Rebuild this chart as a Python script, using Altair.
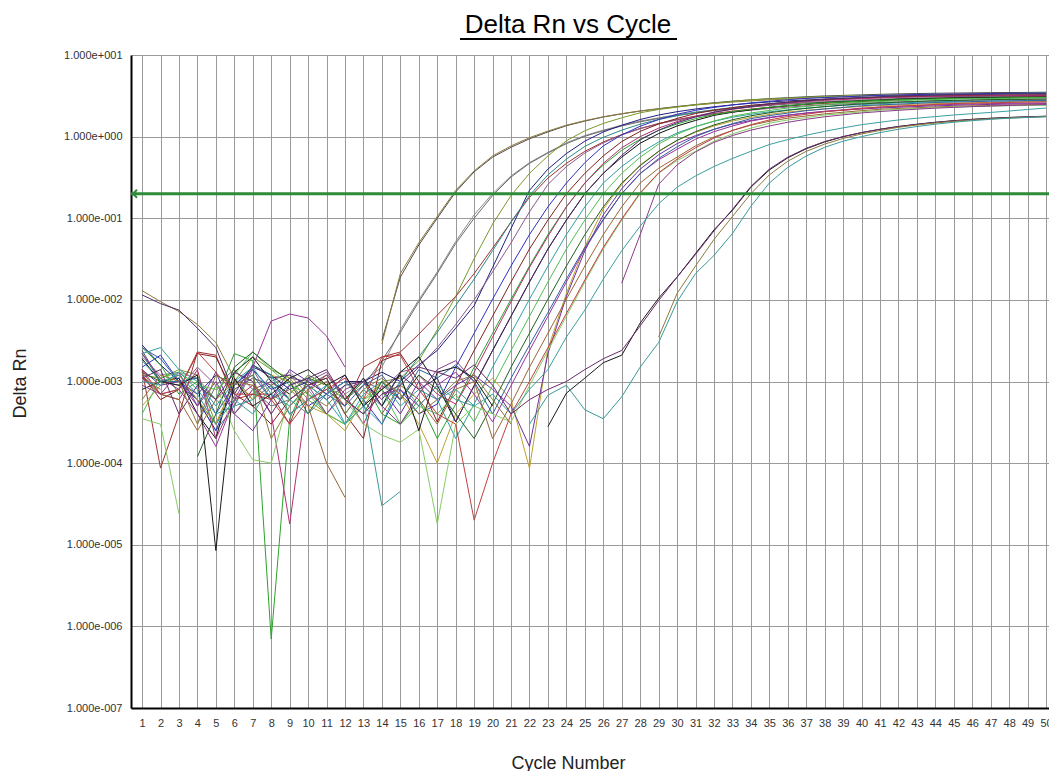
import altair as alt
import pandas as pd

# ---------------------------------------------------------------
# Amplification plot: Delta Rn per well for cycles 1..50 (log scale)
# None marks a cycle whose Delta Rn is not positive (no point drawn)
# ---------------------------------------------------------------
cycles = list(range(1, 51))
decades = [1e-7, 1e-6, 1e-5, 1e-4, 1e-3, 1e-2, 1e-1, 1e0, 1e1]
threshold_value = [0.2]
chart_title = ["Delta Rn vs Cycle"]

A1 = [2.4e-3, 1.0e-3, 9e-4, 6e-4, 3e-4, 8e-4, 1.1e-3, 9e-4, 4e-4, 6e-4,
      8e-4, 5e-4, None, 3.2e-3, 0.019, 0.047, 0.10, 0.21, 0.37, 0.56,
      0.74, 0.94, 1.14, 1.36, 1.55, 1.74, 1.90, 2.06, 2.20, 2.34,
      2.47, 2.60, 2.72, 2.82, 2.92, 3.00, 3.08, 3.15, 3.20, 3.25,
      3.30, 3.34, 3.37, 3.40, 3.42, 3.44, 3.46, 3.47, 3.48, 3.50]
A2 = [1.3e-2, 9.5e-3, 7.2e-3, 5.0e-3, 3.0e-3, 1.1e-3, 6e-4, 9e-4, 1.2e-3, 7e-4,
      5e-4, 9e-4, None, 2.9e-3, 0.021, 0.050, 0.105, 0.22, 0.38, 0.58,
      0.77, 0.97, 1.17, 1.38, 1.57, 1.75, 1.91, 2.06, 2.19, 2.32,
      2.44, 2.55, 2.65, 2.74, 2.82, 2.89, 2.96, 3.02, 3.08, 3.13,
      3.17, 3.21, 3.25, 3.28, 3.31, 3.33, 3.35, 3.37, 3.38, 3.40]
B1 = [2.0e-3, 1.2e-3, 1.3e-3, 1.1e-3, 6e-4, 4e-4, 7e-4, 1.0e-3, 1.3e-3, 8e-4,
      4e-4, 7e-4, 1.0e-3, 1.5e-3, 4.3e-3, 1.0e-2, 0.022, 0.052, 0.11, 0.20,
      0.33, 0.48, 0.64, 0.84, 1.03, 1.20, 1.38, 1.55, 1.70, 1.86,
      2.00, 2.12, 2.24, 2.35, 2.45, 2.54, 2.62, 2.69, 2.76, 2.82,
      2.88, 2.93, 2.98, 3.02, 3.06, 3.09, 3.12, 3.15, 3.18, 3.20]
B2 = [1.1e-3, 8e-4, None, 3e-4, 9e-4, 1.4e-3, 8e-4, 5e-4, 6e-4, 9e-4,
      1.2e-3, 6e-4, 9e-4, 1.8e-3, 4.0e-3, 9.5e-3, 0.021, 0.049, 0.10, 0.19,
      0.32, 0.47, 0.63, 0.82, 1.01, 1.18, 1.35, 1.52, 1.67, 1.82,
      1.96, 2.08, 2.20, 2.31, 2.41, 2.50, 2.58, 2.65, 2.72, 2.78,
      2.84, 2.89, 2.94, 2.98, 3.02, 3.05, 3.08, 3.11, 3.14, 3.16]
C1 = [1.2e-3, 1.1e-3, 1.4e-3, 1.2e-3, 3e-4, 1.0e-3, 2.0e-3, 1.4e-3, 1.1e-3, 6e-4,
      4e-4, 3e-4, 5e-4, 1.0e-3, 1.1e-3, 1.8e-3, 4.3e-3, 0.011, 0.032, 0.085,
      0.19, 0.355, 0.58, 0.89, 1.18, 1.45, 1.70, 1.96, 2.15, 2.30,
      2.46, 2.57, 2.70, 2.83, 2.89, 2.96, 3.03, 3.10, 3.14, 3.17,
      3.21, 3.23, 3.25, 3.27, 3.29, 3.30, 3.32, 3.33, 3.34, 3.35]
C2 = [2.8e-3, 1.6e-3, 1.0e-3, 7e-4, 1.2e-3, 9e-4, 1.5e-3, 1.2e-3, 8e-4, 1.0e-3,
      7e-4, 1.0e-3, 1.0e-3, 1.3e-3, 1.0e-3, 1.6e-3, 2.4e-3, 4.5e-3, 8.5e-3, 0.025,
      0.075, 0.22, 0.40, 0.62, 0.88, 1.14, 1.38, 1.62, 1.84, 2.02,
      2.18, 2.32, 2.45, 2.56, 2.66, 2.74, 2.81, 2.88, 2.94, 2.99,
      3.03, 3.06, 3.09, 3.12, 3.14, 3.16, 3.18, 3.20, 3.21, 3.22]
C3 = [1.4e-3, 8.7e-5, 3.9e-4, 2.3e-3, 2.1e-3, 6e-4, 7e-4, 7e-4, 3e-4, 1.1e-3,
      9e-4, 5e-4, 1.5e-3, 2.0e-3, 2.3e-3, 3.8e-3, 6.5e-3, 0.011, 0.021, 0.043,
      0.090, 0.18, 0.31, 0.47, 0.66, 0.86, 1.06, 1.26, 1.45, 1.62,
      1.78, 1.92, 2.05, 2.17, 2.28, 2.38, 2.47, 2.55, 2.62, 2.69,
      2.75, 2.80, 2.85, 2.89, 2.93, 2.97, 3.00, 3.03, 3.06, 3.08]
C4 = [2.2e-3, 1.0e-3, 1.0e-3, 6e-4, 2.5e-4, 5e-4, 1.6e-3, 1.2e-3, 6e-4, 9e-4,
      1.1e-3, 4e-4, 8e-4, 5e-4, 1.0e-3, 2.0e-3, 4.0e-3, 8.5e-3, 0.018, 0.040,
      0.090, 0.19, 0.34, 0.53, 0.76, 0.98, 1.20, 1.42, 1.62, 1.80,
      1.97, 2.13, 2.27, 2.40, 2.52, 2.63, 2.73, 2.82, 2.90, 2.98,
      3.05, 3.11, 3.17, 3.22, 3.27, 3.31, 3.35, 3.38, 3.41, 3.44]
C5 = [1.3e-3, 7e-4, 8e-4, 1.5e-3, 9e-4, 5e-4, 1.4e-3, 6e-4, 1.1e-3, 1.0e-3,
      1.3e-3, 6e-4, 1.0e-3, 8e-4, 1.3e-3, 1.5e-3, 2.6e-3, 5.0e-3, 0.010, 0.022,
      0.050, 0.12, 0.26, 0.43, 0.63, 0.84, 1.05, 1.25, 1.43, 1.60,
      1.75, 1.88, 2.00, 2.11, 2.21, 2.30, 2.38, 2.45, 2.51, 2.57,
      2.62, 2.66, 2.70, 2.74, 2.77, 2.80, 2.82, 2.84, 2.86, 2.88]
D1 = [1.5e-3, 2.1e-3, 1.0e-3, 6e-4, 2.5e-4, 9e-4, 1.4e-3, 8e-4, 1.0e-3, 5e-4,
      7e-4, 1.0e-3, 6e-4, 3e-4, 8e-4, 4e-4, 5.3e-4, 1.5e-3, 3.9e-3, 0.0102,
      0.026, 0.063, 0.138, 0.27, 0.48, 0.77, 1.05, 1.34, 1.62, 1.88,
      2.10, 2.28, 2.44, 2.59, 2.71, 2.83, 2.94, 3.01, 3.07, 3.14,
      3.20, 3.24, 3.28, 3.31, 3.33, 3.34, 3.37, 3.39, 3.40, 3.41]
D2 = [1.2e-3, 6e-4, 8e-4, 2.2e-3, 2.0e-3, 7e-4, 5e-4, 3e-4, 6e-4, 9e-4,
      1.1e-3, 4e-4, 2e-4, 1.8e-3, 2.2e-3, 1.0e-3, 3.2e-4, 8.9e-4, 2.4e-3, 6.3e-3,
      0.0166, 0.042, 0.095, 0.20, 0.355, 0.58, 0.87, 1.16, 1.43, 1.67,
      1.92, 2.11, 2.26, 2.42, 2.53, 2.65, 2.78, 2.84, 2.91, 2.97,
      3.05, 3.08, 3.11, 3.15, 3.18, 3.19, 3.21, 3.23, 3.24, 3.26]
D3 = [8e-4, 1.0e-3, 1.1e-3, 4e-4, 2e-4, 1.3e-3, 2.0e-3, 1.0e-3, 7e-4, 1.2e-3,
      9e-4, 6e-4, 1.1e-3, 5e-4, 1.3e-3, 2.0e-3, 9e-4, 3.2e-4, 8.9e-4, 2.4e-3,
      6.3e-3, 0.0166, 0.042, 0.095, 0.20, 0.355, 0.56, 0.83, 1.09, 1.35,
      1.58, 1.82, 1.99, 2.13, 2.28, 2.39, 2.50, 2.62, 2.68, 2.74,
      2.80, 2.88, 2.91, 2.94, 2.98, 3.00, 3.01, 3.03, 3.05, 3.06]
D4 = [2.6e-3, 1.6e-3, 7e-4, 1.0e-3, 6e-4, 2.2e-3, 1.8e-3, 7e-7, 3.5e-4, 1.1e-3,
      9e-4, 6e-4, 1.0e-3, 4e-4, 3e-4, 6e-4, 2.0e-4, 5.3e-4, 1.5e-3, 3.9e-3,
      0.0102, 0.026, 0.063, 0.138, 0.27, 0.45, 0.68, 0.93, 1.19, 1.43,
      1.66, 1.86, 2.02, 2.16, 2.29, 2.40, 2.50, 2.60, 2.66, 2.72,
      2.78, 2.83, 2.87, 2.90, 2.93, 2.95, 2.96, 2.98, 3.00, 3.01]
D5 = [1.1e-3, 7e-4, 6e-4, 1.4e-3, 2.0e-4, 6e-4, 9e-4, 4e-4, 1.8e-5, 8e-4,
      1.2e-3, 7e-4, 3e-4, 9e-4, 6e-4, 1.2e-3, 7e-4, 5.3e-4, 1.3e-3, 3.5e-3,
      9.5e-3, 0.025, 0.060, 0.138, 0.27, 0.47, 0.73, 1.00, 1.27, 1.53,
      1.78, 1.99, 2.16, 2.31, 2.45, 2.57, 2.68, 2.78, 2.85, 2.91,
      2.97, 3.03, 3.07, 3.10, 3.14, 3.16, 3.17, 3.19, 3.21, 3.22]
D6 = [5e-4, 9e-4, 1.2e-3, 6e-4, 3e-4, 1.0e-3, 6e-4, 1.2e-3, 1.0e-3, 5e-4,
      4e-4, 2.5e-4, 6e-4, 1.0e-3, 7e-4, 3e-4, 1.0e-4, 4e-4, 7e-4, 1.1e-3,
      6e-4, 8.6e-5, 2.5e-3, 0.012, 0.045, 0.13, 0.26, 0.45, 0.66, 0.90,
      1.13, 1.35, 1.55, 1.72, 1.87, 2.00, 2.10, 2.19, 2.27, 2.34,
      2.40, 2.45, 2.50, 2.54, 2.57, 2.60, 2.63, 2.65, 2.67, 2.69]
D7 = [1.15e-2, 9.0e-3, 7.5e-3, 4.5e-3, 2.6e-3, 7e-4, 1.6e-3, 1.1e-3, 1.2e-3, 9e-4,
      6e-4, 9e-4, 1.0e-3, 6e-4, 1.2e-3, 8e-4, 1.1e-3, 3.2e-4, 8.9e-4, 2.4e-3,
      6.3e-3, 0.0166, 0.042, 0.095, 0.20, 0.355, 0.59, 0.91, 1.20, 1.48,
      1.74, 1.99, 2.18, 2.34, 2.51, 2.62, 2.74, 2.88, 2.95, 3.01,
      3.08, 3.16, 3.19, 3.23, 3.27, 3.29, 3.30, 3.33, 3.35, 3.36]
D8 = [2.2e-3, 2.6e-3, 1.4e-3, 1.0e-3, 5e-4, 1.0e-3, 1.5e-3, 7e-4, 5e-4, 9e-4,
      6e-4, 3e-4, 7e-4, 1.0e-3, 5e-4, 8e-4, 6e-4, 2.0e-4, 5.3e-4, 1.5e-3,
      3.9e-3, 0.0102, 0.026, 0.063, 0.138, 0.27, 0.43, 0.63, 0.86, 1.11,
      1.33, 1.54, 1.73, 1.88, 2.01, 2.13, 2.23, 2.33, 2.42, 2.47,
      2.53, 2.59, 2.63, 2.67, 2.70, 2.72, 2.74, 2.75, 2.77, 2.79]
D9 = [1.4e-3, 9e-4, 1.0e-3, 5e-4, 1.3e-3, 4e-4, 2.5e-4, 6e-4, 1.4e-3, 1.0e-3,
      7e-4, 1.2e-3, 5e-4, 8e-4, 4e-4, 1.0e-3, 6e-4, 9e-4, 1.2e-3, 8e-4,
      5e-4, 1.6e-4, 2.2e-3, 0.011, 0.040, 0.11, 0.23, 0.40, 0.60, 0.82,
      1.03, 1.23, 1.42, 1.58, 1.72, 1.84, 1.94, 2.03, 2.11, 2.18,
      2.24, 2.29, 2.34, 2.38, 2.42, 2.45, 2.48, 2.50, 2.52, 2.54]
D10 = [4e-4, 1.1e-3, 1.3e-3, 9e-4, 8e-4, 1.2e-3, 2.3e-3, 1.4e-3, 9e-4, 7e-4,
       4e-4, 3e-4, 6e-4, 8e-4, 3e-4, 5e-4, 4e-4, 7e-4, 3.2e-4, 8.9e-4,
       2.4e-3, 6.3e-3, 0.0166, 0.042, 0.095, 0.20, 0.355, 0.56, 0.81, 1.07,
       1.32, 1.55, 1.78, 1.95, 2.09, 2.24, 2.34, 2.45, 2.57, 2.63,
       2.69, 2.75, 2.82, 2.85, 2.88, 2.92, 2.94, 2.95, 2.97, 2.99]
E1 = [1.3e-3, 1.0e-3, None, 1.2e-4, 4e-4, 1.5e-3, 2.3e-3, 1.5e-3, 1.0e-3, 4e-4,
      9e-4, 6e-4, 4e-4, 1.0e-3, 6e-4, 1.2e-3, 8e-4, 4e-4, 2.0e-4, 5.3e-4,
      1.5e-3, 3.9e-3, 0.0102, 0.026, 0.063, 0.138, 0.27, 0.44, 0.66, 0.90,
      1.15, 1.39, 1.61, 1.80, 1.96, 2.10, 2.22, 2.33, 2.43, 2.52,
      2.58, 2.64, 2.70, 2.75, 2.78, 2.81, 2.84, 2.86, 2.87, 2.89]
E2 = [2.2e-3, 1.1e-3, 8e-4, 4e-4, 1.6e-4, 6e-4, 1.5e-3, 5.5e-3, 6.7e-3, 6.0e-3,
      3.6e-3, 1.5e-3, None, 7e-4, 8e-4, 5e-4, 9e-4, 1.3e-3, 7e-4, 3.2e-4,
      8.9e-4, 2.4e-3, 6.3e-3, 0.0166, 0.042, 0.095, 0.20, 0.355, 0.52, 0.70,
      0.93, 1.15, 1.35, 1.55, 1.70, 1.82, 1.95, 2.04, 2.13, 2.24,
      2.29, 2.34, 2.39, 2.45, 2.48, 2.51, 2.54, 2.56, 2.57, 2.58]
E3 = [2.6e-3, 1.9e-3, 1.0e-3, 1.1e-3, 4e-4, 9e-4, 1.2e-3, 6e-4, 9e-4, 1.1e-3,
      7e-4, 5e-4, 9e-4, 1.2e-3, 6e-4, 1.4e-3, 1.1e-3, 1.6e-3, 1.0e-3, 4e-4,
      1.1e-3, 2.8e-3, 7.0e-3, 0.018, 0.044, 0.097, 0.20, 0.35, 0.54, 0.75,
      1.00, 1.23, 1.44, 1.66, 1.81, 1.94, 2.08, 2.18, 2.28, 2.39,
      2.45, 2.50, 2.56, 2.62, 2.65, 2.68, 2.72, 2.73, 2.75, 2.76]
E4 = [1.2e-3, 7e-4, 6e-4, 2.5e-4, 6e-4, 1.0e-3, 9e-4, 6e-4, 8e-4, 5e-4,
      1.0e-4, 3.8e-5, None, 4e-4, 9e-4, 6e-4, 3e-4, 8e-4, 1.0e-3, 2.0e-4,
      5.3e-4, 1.5e-3, 3.9e-3, 0.0102, 0.026, 0.063, 0.138, 0.27, 0.41, 0.56,
      0.77, 0.99, 1.19, 1.38, 1.54, 1.68, 1.79, 1.90, 1.99, 2.08,
      2.16, 2.21, 2.26, 2.31, 2.35, 2.38, 2.41, 2.43, 2.45, 2.46]
E5 = [3.5e-4, 3.0e-4, 2.4e-5, None, 9e-4, 2.5e-4, 1.1e-4, 1.0e-4, 7e-4, 1.2e-3,
      9e-4, 6e-4, 3e-4, 2.2e-4, 1.8e-4, 2.6e-4, 1.8e-5, 3e-4, 5e-4, 4e-4,
      3.2e-4, 8.9e-4, 2.4e-3, 6.3e-3, 0.0166, 0.042, 0.095, 0.20, 0.355, 0.51,
      0.66, 0.88, 1.08, 1.27, 1.46, 1.60, 1.71, 1.84, 1.92, 2.01,
      2.11, 2.16, 2.21, 2.26, 2.31, 2.34, 2.36, 2.39, 2.41, 2.42]
E6 = [1.4e-3, 7e-4, 8e-4, 2.3e-3, 1.3e-3, 7e-4, 7e-4, 6e-4, 3e-4, 6e-4,
      8e-4, 1.1e-3, 6e-4, 2.0e-3, 2.1e-3, 8e-4, 4e-4, 3e-4, 2.0e-5, 1.0e-4,
      4e-4, 1.0e-3, 2.6e-3, 6.8e-3, 0.0175, 0.044, 0.098, 0.205, 0.36, 0.53,
      0.73, 0.96, 1.19, 1.40, 1.60, 1.76, 1.88, 2.02, 2.11, 2.20,
      2.31, 2.37, 2.42, 2.48, 2.54, 2.57, 2.59, 2.63, 2.65, 2.66]
E7 = [9e-4, 7e-4, 1.3e-3, 5e-4, 1.0e-3, 4e-4, 8e-4, 1.0e-3, 6e-4, 9e-4,
      4e-4, 8e-4, 1.0e-3, 5e-4, 3e-4, 7e-4, 1.4e-3, 1.8e-3, 1.0e-3, None,
      None, None, None, None, None, None, 0.016, 0.063, 0.26, 0.45,
      0.65, 0.85, 1.03, 1.20, 1.35, 1.50, 1.63, 1.75, 1.85, 1.95,
      2.03, 2.10, 2.17, 2.23, 2.28, 2.33, 2.37, 2.41, 2.44, 2.47]
F1 = [1.0e-3, 9e-4, 1.3e-3, 8e-4, 4e-4, 5e-4, 6e-4, 1.2e-3, 4e-4, 6e-4,
      9e-4, 3e-4, 5e-4, 3e-4, 1.0e-3, 5e-4, 9e-4, 6e-4, 5e-4, 7e-4,
      4e-4, 8e-4, 1.4e-3, 3.5e-3, 7.5e-3, 0.018, 0.040, 0.080, 0.15, 0.24,
      0.33, 0.43, 0.54, 0.66, 0.80, 0.92, 1.04, 1.16, 1.28, 1.40,
      1.50, 1.60, 1.68, 1.76, 1.84, 1.91, 1.98, 2.06, 2.15, 2.24]
G1 = [1.9e-3, 1.0e-3, 9e-4, 1.2e-3, 8.5e-6, 1.1e-3, 5e-4, 7e-4, 1.1e-3, 1.4e-3,
      9e-4, 1.2e-3, 5e-4, 8e-4, 1.2e-3, 2.5e-4, 1.3e-3, 1.5e-3, 1.1e-3, 5e-4,
      None, None, 2.8e-4, 7.2e-4, 1.1e-3, 1.7e-3, 2.1e-3, 5.2e-3, 0.0105, 0.019,
      0.037, 0.072, 0.125, 0.24, 0.39, 0.55, 0.71, 0.86, 1.00, 1.12,
      1.23, 1.33, 1.42, 1.50, 1.57, 1.63, 1.68, 1.72, 1.75, 1.78]
G2 = [1.1e-3, 1.4e-3, 4e-4, 9e-4, 6e-4, 1.3e-3, 1.0e-3, 4e-4, 9e-4, 1.1e-3,
      1.4e-3, 6e-4, 4e-4, 7e-4, 9e-4, 1.5e-3, 1.3e-3, 1.1e-3, 1.6e-3, 9e-4,
      4.0e-4, 6e-4, 8e-4, 1.0e-3, 1.4e-3, 1.9e-3, 2.4e-3, 4.8e-3, 9.8e-3, 0.019,
      0.036, 0.070, 0.128, 0.245, 0.40, 0.56, 0.72, 0.87, 1.00, 1.12,
      1.23, 1.33, 1.41, 1.49, 1.56, 1.62, 1.67, 1.71, 1.74, 1.77]
G3 = [6e-4, 1.2e-3, 1.0e-3, 3e-4, 1.2e-3, 9e-4, 1.2e-3, 2.0e-4, 5e-4, 8e-4,
      1.0e-3, 4e-4, 8e-4, 1.1e-3, 7e-4, 4e-4, 6e-4, 1.0e-3, 1.2e-3, 6e-4,
      3e-4, None, None, None, None, None, None, None, 3.5e-3, 0.012,
      0.026, 0.055, 0.105, 0.20, 0.34, 0.50, 0.66, 0.81, 0.95, 1.08,
      1.19, 1.30, 1.39, 1.47, 1.54, 1.60, 1.65, 1.69, 1.72, 1.75]
G4 = [1.8e-3, 1.0e-3, 1.2e-3, 7e-4, 3e-4, 6e-4, 4e-4, 9e-4, 6e-4, 4e-4,
      7e-4, 1.0e-3, 6e-4, 3.0e-5, 4.5e-5, None, 6e-4, 8e-4, 5e-4, None,
      None, 3e-4, 6.8e-4, 9.0e-4, 4.5e-4, 3.5e-4, 6.5e-4, 1.5e-3, 3.0e-3, 9.5e-3,
      0.021, 0.035, 0.065, 0.14, 0.27, 0.42, 0.58, 0.74, 0.88, 1.00,
      1.12, 1.23, 1.33, 1.42, 1.50, 1.57, 1.63, 1.68, 1.72, 1.76]

wells = [
    ("A1", A1, "#4d4d4d"), ("A2", A2, "#8f7a3a"),
    ("B1", B1, "#8c8c8c"), ("B2", B2, "#6b6b6b"),
    ("C1", C1, "#7a9a2a"), ("C2", C2, "#202080"), ("C3", C3, "#a03030"),
    ("C4", C4, "#2a8a8a"), ("C5", C5, "#8a5a8a"),
    ("D1", D1, "#3030c0"), ("D2", D2, "#802020"), ("D3", D3, "#101010"),
    ("D4", D4, "#2ca02c"), ("D5", D5, "#b03070"), ("D6", D6, "#c0a030"),
    ("D7", D7, "#4b2c6f"), ("D8", D8, "#30a0a0"), ("D9", D9, "#7030a0"),
    ("D10", D10, "#50c050"),
    ("E1", E1, "#206020"), ("E2", E2, "#993399"), ("E3", E3, "#3060a0"),
    ("E4", E4, "#996633"), ("E5", E5, "#88cc66"), ("E6", E6, "#c04040"),
    ("E7", E7, "#8a3a8a"),
    ("F1", F1, "#3aa0a0"),
    ("G1", G1, "#1a1a1a"), ("G2", G2, "#6a2a6a"), ("G3", G3, "#8a7a3a"),
    ("G4", G4, "#3a9a9a"),
]

# Long table; a new run id starts after every gap so the paths break there
rows = []
for name, values, _ in wells:
    assert len(values) == len(cycles), (name, len(values))
    run, gap = 0, True
    for c, v in zip(cycles, values):
        if v is None:
            gap = True
            continue
        if gap:
            run += 1
            gap = False
        rows.append({"well": name, "cycle": c, "value": v, "run": f"{name}-{run}"})
df = pd.DataFrame(rows)

thr_df = pd.DataFrame({"value": threshold_value})
title_df = pd.DataFrame({"label": chart_title})

FONT = "Liberation Sans"
GREEN = "#2e8b37"
GRID = "#9a9a9a"

y_enc = alt.Y(
    "value:Q",
    scale=alt.Scale(type="log", domain=[1e-7, 10], nice=False),
    axis=alt.Axis(
        values=decades,
        labelExpr="'1.000e' + (datum.value >= 1 ? '+' : '-') + "
                  "pad(toString(abs(round(log(datum.value) / LN10))), 3, '0', 'left')",
        ticks=False, grid=True, gridColor=GRID, gridWidth=1,
        domainColor="#000000", domainWidth=2,
        labelFont=FONT, labelFontSize=11, labelColor="#333333", labelPadding=9,
        title="Delta Rn", titleFont=FONT, titleFontSize=18, titleFontWeight="normal",
        titleColor="#222222", titleAngle=-90, titleBaseline="alphabetic",
        titleAlign="center", titleX=-106, titleY=328,
    ),
)

x_enc = alt.X(
    "cycle:Q",
    scale=alt.Scale(domain=[0.4, 50.16], nice=False, zero=False),
    axis=alt.Axis(
        values=cycles, format="d", labelOverlap=False, labelFlush=False,
        ticks=False, grid=True, gridColor=GRID, gridWidth=1,
        domainColor="#000000", domainWidth=2,
        labelFont=FONT, labelFontSize=11, labelColor="#333333", labelPadding=9,
        labelAngle=0,
        title="Cycle Number", titleFont=FONT, titleFontSize=18, titleFontWeight="normal",
        titleColor="#222222", titleBaseline="alphabetic", titleAlign="center",
        titleX=437, titleY=60,
    ),
)

lines = alt.Chart(df).mark_line(strokeWidth=1, clip=True).encode(
    x=x_enc,
    y=y_enc,
    color=alt.Color("well:N",
                    scale=alt.Scale(domain=[w[0] for w in wells],
                                    range=[w[2] for w in wells]),
                    legend=None),
    detail="run:N",
    order="cycle:Q",
)

threshold = alt.Chart(thr_df).mark_rule(color=GREEN, strokeWidth=3).encode(y=y_enc)

arrow = alt.Chart(thr_df).mark_point(
    shape="M1,-1L0,0L1,1", size=64, filled=False, color=GREEN, strokeWidth=2, opacity=1
).encode(x=alt.value(2), y=y_enc)

title_text = alt.Chart(title_df).mark_text(
    font=FONT, fontSize=26, align="center", baseline="alphabetic", color="#000000"
).encode(x=alt.value(437), y=alt.value(-22), text="label:N")

underline = alt.Chart(title_df).mark_rule(color="#000000", strokeWidth=2).encode(
    x=alt.value(329), x2=alt.value(546), y=alt.value(-16)
)

chart = (
    alt.layer(lines, threshold, arrow, title_text, underline)
    .properties(
        width=918, height=653, autosize="none",
        padding={"left": 131, "top": 55, "right": 0, "bottom": 63},
        background="#ffffff",
    )
    .configure_view(stroke=None)
)

chart.save("out.html", embed_options={"renderer": "svg", "actions": False})
